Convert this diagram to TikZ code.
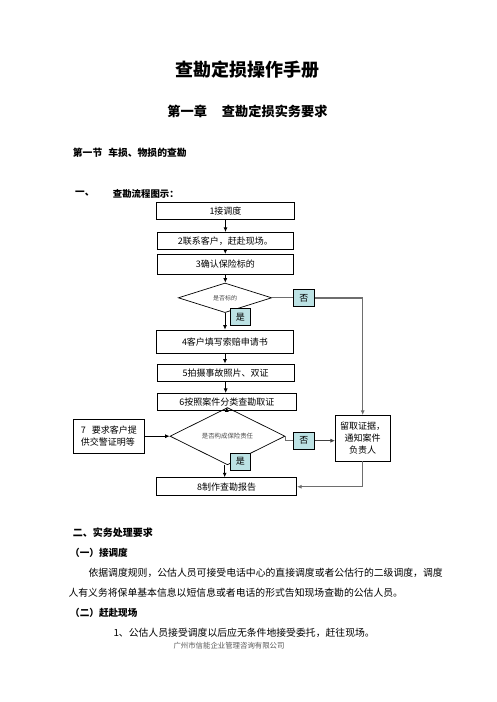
\documentclass[tikz,border=0pt]{standalone}
\usepackage{fontspec}
\setmainfont{Noto Sans CJK SC}
\usetikzlibrary{arrows.meta,shapes.geometric,calc}
\definecolor{yn}{RGB}{188,226,228}
\definecolor{conn}{RGB}{110,110,110}
\begin{document}
\begin{tikzpicture}[x=1pt,y=-1pt,
  flowbox/.style={draw=black,line width=0.8pt,inner sep=0pt,font=\fontsize{9}{12}\selectfont},
  ynbox/.style={draw=black,line width=0.7pt,fill=yn,inner sep=0pt,minimum width=21pt,minimum height=16.7pt,font=\fontsize{9}{11}\selectfont},
  decide/.style={draw=black,line width=0.7pt,diamond,inner sep=0pt,text=black!70},
  arr/.style={line width=0.8pt,-{Latex[length=4.5pt,width=4pt]}},
  garr/.style={draw=conn,line width=1.3pt,-{Latex[length=4.5pt,width=4pt]}},
  gline/.style={draw=conn,line width=1.3pt},
  txt/.style={inner sep=0pt,anchor=west},
  hd/.style={inner sep=0pt,font=\bfseries}
]
\useasboundingbox (0,0) rectangle (496,702);
\fill[white] (0,0) rectangle (496,702);

% headings
\node[hd,font=\fontsize{18}{20}\selectfont\bfseries] (title) at (247.5,70) {查勘定损操作手册};
\node[hd,font=\fontsize{13.2}{15}\selectfont\bfseries] (chap) at (247.5,111.7) {第一章\hspace{15pt}查勘定损实务要求};
\node[hd,txt,font=\fontsize{9.8}{12}\selectfont\bfseries] (sec) at (72.7,152.7) {第一节\hspace{6pt}车损、物损的查勘};
\node[hd,txt,font=\fontsize{9.6}{12}\selectfont\bfseries] (one) at (75,194) {一、};
\node[hd,txt,font=\fontsize{9.4}{12}\selectfont\bfseries] (flowhd) at (112.7,194) {查勘流程图示：};

% flow boxes
\node[flowbox,minimum width=137.6pt,minimum height=17pt] (b1) at (225.5,210.8) {1接调度};
\node[flowbox,minimum width=136pt,minimum height=16.7pt] (b2) at (225.3,240.7) {2联系客户，赶赴现场。};
\node[flowbox,minimum width=136pt,minimum height=20pt] (b3) at (225.3,264.3) {3确认保险标的};
\node[decide,minimum width=93.4pt,minimum height=29pt,font=\fontsize{6}{7}\selectfont] (d1) at (225,297.8) {是否标的};
\node[ynbox] (no1) at (303.8,298) {否};
\node[ynbox,minimum width=20.7pt,minimum height=17.4pt] (yes1) at (240.3,317) {是};
\node[flowbox,minimum width=136.6pt,minimum height=23.3pt] (b4) at (225,341.7) {4客户填写索赔申请书};
\node[flowbox,minimum width=137.3pt,minimum height=17.7pt] (b5) at (225.7,372.8) {5拍摄事故照片、双证};
\node[flowbox,minimum width=139.7pt,minimum height=16.7pt] (b6) at (226.8,401.7) {6按照案件分类查勘取证};
\node[decide,minimum width=115pt,minimum height=37.7pt,font=\fontsize{6.4}{7}\selectfont] (d2) at (227.5,436.2) {是否构成保险责任};
\node[flowbox,minimum width=71pt,minimum height=34.3pt,align=left] (b7) at (108.8,436.2) {7\hspace{6pt}要求客户提\\供交警证明等};
\node[ynbox] (no2) at (303.8,440.7) {否};
\node[ynbox,minimum width=20.7pt] (yes2) at (240.3,461.7) {是};
\node[flowbox,minimum width=54.7pt,minimum height=45.7pt,align=center] (r) at (362.7,438.2) {留取证据，\\通知案件\\负责人};
\node[flowbox,minimum width=140pt,minimum height=18pt] (b8) at (226.7,486.7) {8制作查勘报告};

% connectors
\draw[arr] (b1.south) -- (b1.south |- b2.north);
\draw[arr] (b2.south) -- (b2.south |- b3.north);
\draw[arr] (b3.south) -- (b3.south |- d1.north);
\draw[arr] (d1.south) -- (d1.south |- b4.north);
\draw[arr] (b4.south) -- (b4.south |- b5.north);
\draw[arr] (b5.south) -- (b5.south |- b6.north);
\draw[arr] (b6.south) -- (b6.south |- d2.north);
\draw[arr] (d2.south -| b8.north) ++(-2,0) coordinate (d2s) -- (d2s |- b8.north);
\draw[arr] (b7.east) -- (d2.west);
\draw[gline] (d1.east) -- (d1.east -| no1.west);
\draw[garr] (no1.east) -- (no1.east -| r.north) -- (r.north);
\draw[gline] (d2.east) -- (d2.east |- no2.west) -- (no2.west);
\draw[arr,draw=black!75] (no2.east) -- (no2.east -| r.west);
\draw[garr] (r.south) -- (r.south |- b8.east) -- (b8.east);

% body text
\node[hd,txt,font=\fontsize{10}{12}\selectfont\bfseries] (s2) at (72.7,532.7) {二、实务处理要求};
\node[hd,txt,font=\fontsize{9.6}{12}\selectfont\bfseries] (s21) at (70,553.3) {（一）接调度};
\node[txt,font=\fontsize{9.84}{12}\selectfont] (p1) at (88.3,572.7) {依据调度规则，公估人员可接受电话中心的直接调度或者公估行的二级调度，调度};
\node[txt,font=\fontsize{9.84}{12}\selectfont] (p2) at (68.3,592.7) {人有义务将保单基本信息以短信息或者电话的形式告知现场查勘的公估人员。};
\node[hd,txt,font=\fontsize{9.6}{12}\selectfont\bfseries] (s22) at (70,612.7) {（二）赶赴现场};
\node[txt,font=\fontsize{9.84}{12}\selectfont] (p3) at (113.3,633.3) {1、公估人员接受调度以后应无条件地接受委托，赶往现场。};
\node[txt,font=\fontsize{7.4}{9}\selectfont,text=black!65] (foot) at (173.3,646) {广州市信能企业管理咨询有限公司};
\end{tikzpicture}
\end{document}
